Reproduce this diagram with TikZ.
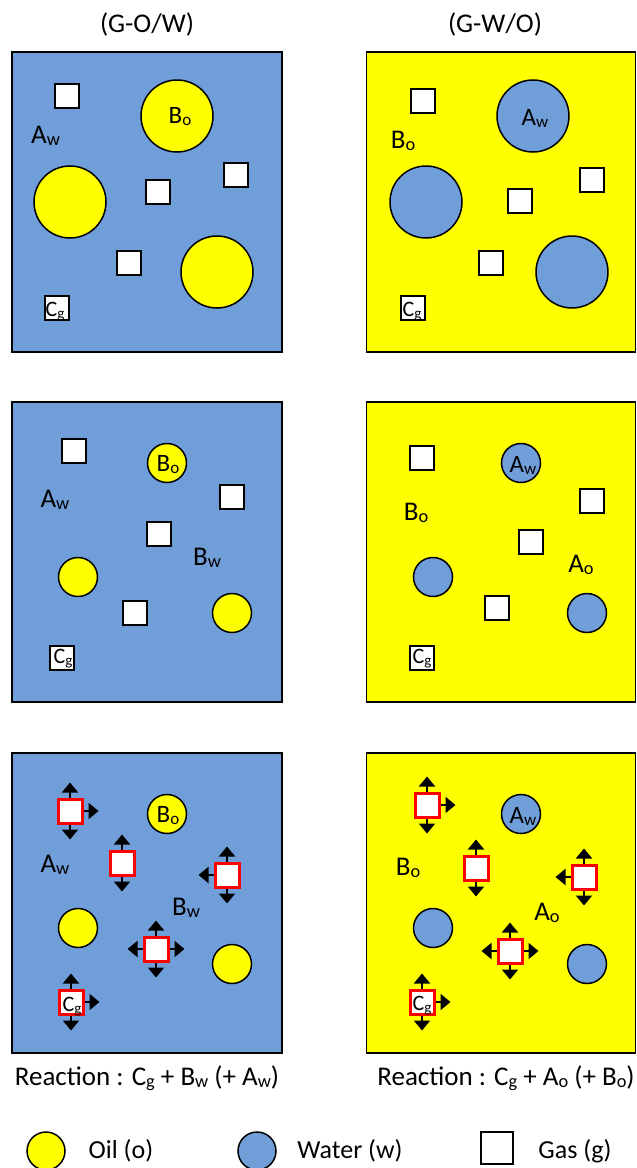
\documentclass[tikz,border=0pt]{standalone}
\usepackage{fontspec}
\setmainfont{Carlito}
\usetikzlibrary{arrows.meta,shapes.geometric}
\definecolor{wblue}{RGB}{112,158,217}
\definecolor{oyel}{RGB}{255,255,0}
\newcommand\lowsub[1]{\raisebox{-0.11em}{\scalebox{0.68}{#1}}}
\newcommand\arrU[1]{\draw[arr] (#1.north) -- ++(0,-15);}
\newcommand\arrD[1]{\draw[arr] (#1.south) -- ++(0,15);}
\newcommand\arrL[1]{\draw[arr] (#1.west) -- ++(-15,0);}
\newcommand\arrR[1]{\draw[arr] (#1.east) -- ++(15,0);}
\begin{document}
\begin{tikzpicture}[x=1pt,y=-1pt,
  panel/.style={draw=black, line width=1.6pt, minimum width=270pt, minimum height=300pt, inner sep=0pt, outer sep=0pt},
  big/.style={circle, draw=black, line width=1.5pt, minimum size=72pt, inner sep=0pt},
  small/.style={circle, draw=black, line width=1.5pt, minimum size=39pt, inner sep=0pt},
  gas/.style={draw=black, fill=white, line width=1.2pt, minimum size=24pt, inner sep=0pt},
  rgas/.style={draw=red, fill=white, line width=3pt, minimum size=24pt, inner sep=0pt},
  lbl/.style={anchor=base, inner sep=0pt, font=\fontsize{27}{31}\selectfont},
  clbl/.style={anchor=base, inner sep=0pt, font=\fontsize{25}{29}\selectfont},
  cglbl/.style={anchor=base, inner sep=0pt, font=\fontsize{22}{26}\selectfont},
  leg/.style={anchor=base, inner sep=0pt, font=\fontsize{26}{30}\selectfont},
  arr/.style={-{Triangle[width=16pt,length=10pt]}, line width=2pt}]
\useasboundingbox (0,0) rectangle (637,1168);
\fill[white] (0,0) rectangle (637,1168);

% titles
\node[lbl] (t1) at (147,32) {(G-O/W)};
\node[lbl] (t2) at (495,32) {(G-W/O)};

% ---------- panel 1 ----------
\node[panel, fill=wblue] (p1) at (147,202) {};
\node[big, fill=oyel] (p1c1) at (177,116) {};
\node[big, fill=oyel] (p1c2) at (70,202) {};
\node[big, fill=oyel] (p1c3) at (217,272) {};
\node[gas] (p1s1) at (67,96) {};
\node[gas] (p1s2) at (158,192) {};
\node[gas] (p1s3) at (236,175) {};
\node[gas] (p1s4) at (129,263) {};
\node[gas] (p1s5) at (57,308) {};
\node[lbl] (p1a) at (45.5,143) {A\lowsub{w}};
\node[clbl] (p1b) at (180,123) {B\lowsub{o}};
\node[cglbl] (p1g) at (55,316) {C\lowsub{g}};

% ---------- panel 2 ----------
\node[panel, fill=oyel, minimum width=269pt] (p2) at (501,202) {};
\node[big, fill=wblue] (p2c1) at (533,116) {};
\node[big, fill=wblue] (p2c2) at (426,202) {};
\node[big, fill=wblue] (p2c3) at (572,272) {};
\node[gas] (p2s1) at (423,101) {};
\node[gas] (p2s2) at (520,201) {};
\node[gas] (p2s3) at (592,180) {};
\node[gas] (p2s4) at (491,263) {};
\node[gas] (p2s5) at (413,308) {};
\node[lbl] (p2b) at (403,148) {B\lowsub{o}};
\node[clbl] (p2a) at (535,125) {A\lowsub{w}};
\node[cglbl] (p2g) at (412,316) {C\lowsub{g}};

% ---------- panel 3 ----------
\node[panel, fill=wblue] (p3) at (147,552) {};
\node[small, fill=oyel] (p3c1) at (167,463) {};
\node[small, fill=oyel] (p3c2) at (78,577) {};
\node[small, fill=oyel] (p3c3) at (232,613) {};
\node[gas] (p3s1) at (74,451) {};
\node[gas] (p3s2) at (232,497) {};
\node[gas] (p3s3) at (159,534) {};
\node[gas] (p3s4) at (135,613) {};
\node[gas] (p3s5) at (62,658) {};
\node[lbl] (p3a) at (55,507) {A\lowsub{w}};
\node[clbl] (p3b) at (168,471) {B\lowsub{o}};
\node[lbl] (p3bw) at (207,565) {B\lowsub{w}};
\node[cglbl] (p3g) at (63,663) {C\lowsub{g}};

% ---------- panel 4 ----------
\node[panel, fill=oyel, minimum width=269pt] (p4) at (501,552) {};
\node[small, fill=wblue] (p4c1) at (521,463) {};
\node[small, fill=wblue] (p4c2) at (433,577) {};
\node[small, fill=wblue] (p4c3) at (587,613) {};
\node[gas] (p4s1) at (422,458) {};
\node[gas] (p4s2) at (592,501) {};
\node[gas] (p4s3) at (531,542) {};
\node[gas] (p4s4) at (497,608) {};
\node[gas] (p4s5) at (422,658) {};
\node[lbl] (p4b) at (416,520) {B\lowsub{o}};
\node[clbl] (p4a) at (523,472) {A\lowsub{w}};
\node[lbl] (p4ao) at (581,572) {A\lowsub{o}};
\node[cglbl] (p4g) at (422,663) {C\lowsub{g}};

% ---------- panel 5 ----------
\node[panel, fill=wblue] (p5) at (147,903) {};
\node[small, fill=oyel] (p5c1) at (167,814) {};
\node[small, fill=oyel] (p5c2) at (78,928) {};
\node[small, fill=oyel] (p5c3) at (232,964) {};
\node[rgas] (p5s1) at (70,811) {};
\node[rgas] (p5s2) at (122,863) {};
\node[rgas] (p5s3) at (227,875) {};
\node[rgas] (p5s4) at (156,949) {};
\node[rgas] (p5s5) at (71,1002) {};
\arrU{p5s1}\arrD{p5s1}\arrR{p5s1}
\arrU{p5s2}\arrD{p5s2}
\arrU{p5s3}\arrD{p5s3}\arrL{p5s3}
\arrU{p5s4}\arrD{p5s4}\arrL{p5s4}\arrR{p5s4}
\arrU{p5s5}\arrD{p5s5}\arrR{p5s5}
\node[clbl] (p5b) at (168,822) {B\lowsub{o}};
\node[lbl] (p5a) at (55,872) {A\lowsub{w}};
\node[lbl] (p5bw) at (186,915) {B\lowsub{w}};
\node[cglbl] (p5g) at (72,1011) {C\lowsub{g}};

% ---------- panel 6 ----------
\node[panel, fill=oyel, minimum width=269pt] (p6) at (501,903) {};
\node[small, fill=wblue] (p6c1) at (521,814) {};
\node[small, fill=wblue] (p6c2) at (433,928) {};
\node[small, fill=wblue] (p6c3) at (587,964) {};
\node[rgas] (p6s1) at (427,805) {};
\node[rgas] (p6s2) at (476,868) {};
\node[rgas] (p6s3) at (584,877) {};
\node[rgas] (p6s4) at (510,951) {};
\node[rgas] (p6s5) at (422,1002) {};
\arrU{p6s1}\arrD{p6s1}\arrR{p6s1}
\arrU{p6s2}\arrD{p6s2}
\arrU{p6s3}\arrD{p6s3}\arrL{p6s3}
\arrU{p6s4}\arrD{p6s4}\arrL{p6s4}\arrR{p6s4}
\arrU{p6s5}\arrD{p6s5}\arrR{p6s5}
\node[clbl] (p6a) at (523,823) {A\lowsub{w}};
\node[lbl] (p6b) at (408,875) {B\lowsub{o}};
\node[lbl] (p6ao) at (547,920) {A\lowsub{o}};
\node[cglbl] (p6g) at (422,1010) {C\lowsub{g}};

% reactions
\node[lbl] (r1) at (147,1085) {Reaction : C\lowsub{g} + B\lowsub{w} (+ A\lowsub{w})};
\node[lbl] (r2) at (506,1085) {Reaction : C\lowsub{g} + A\lowsub{o} (+ B\lowsub{o})};

% legend
\node[ellipse, draw=black, line width=1.5pt, fill=oyel, minimum width=38pt, minimum height=38pt, inner sep=0pt] (l1) at (46,1151) {};
\node[leg] (l1t) at (121,1158) {Oil (o)};
\node[ellipse, draw=black, line width=1.5pt, fill=wblue, minimum width=38pt, minimum height=38pt, inner sep=0pt] (l2) at (257,1151) {};
\node[leg] (l2t) at (350,1158) {Water (w)};
\node[draw=black, line width=1.2pt, fill=white, minimum size=32pt, inner sep=0pt] (l3) at (497,1148) {};
\node[leg] (l3t) at (575,1158) {Gas (g)};
\end{tikzpicture}
\end{document}
